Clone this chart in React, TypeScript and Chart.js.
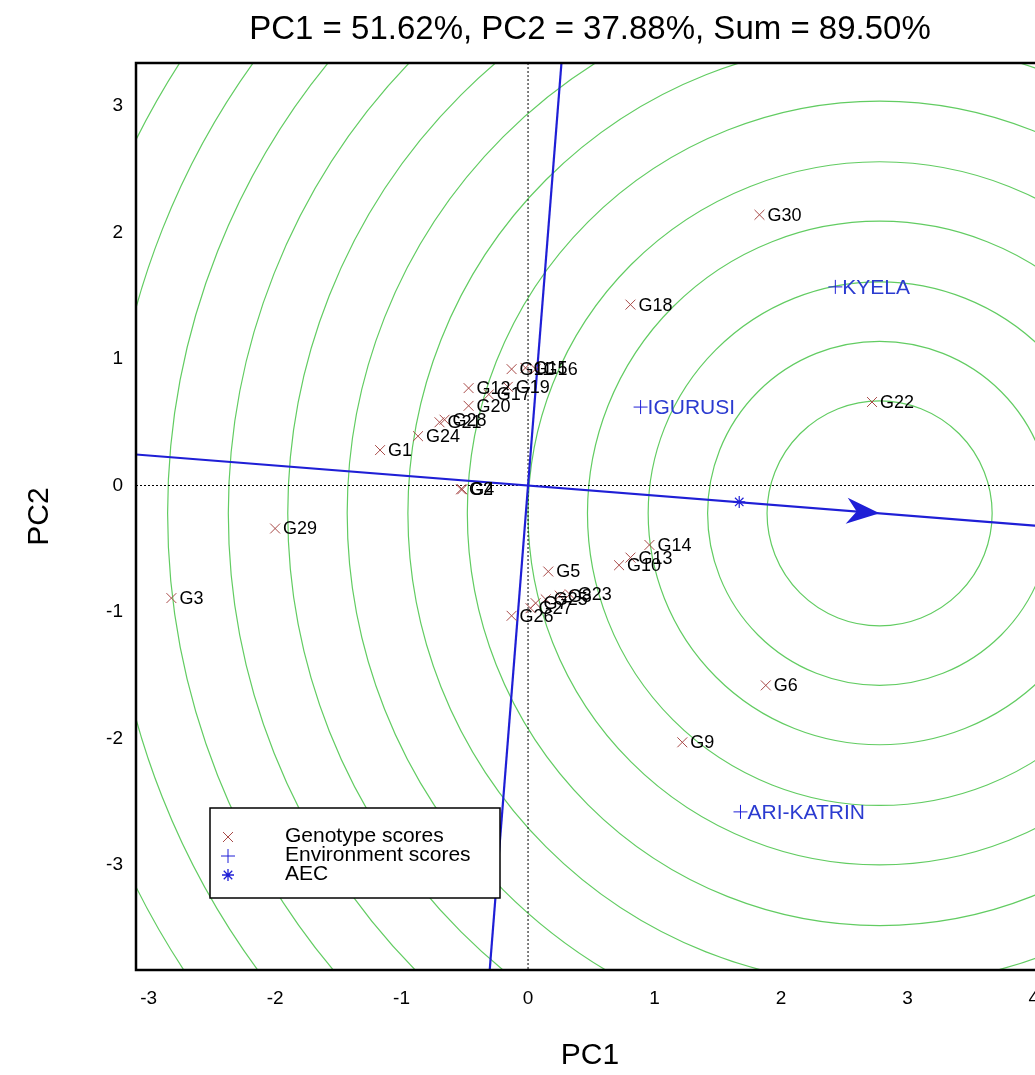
import React, { useEffect, useRef } from "react";
import { Chart, registerables } from "chart.js";

Chart.register(...registerables);

// ---------------- data ----------------
const genotypeNames = [
  "G1", "G2", "G3", "G4", "G5", "G6", "G7", "G8", "G9", "G10",
  "G11", "G12", "G13", "G14", "G15", "G16", "G17", "G18", "G19", "G20",
  "G21", "G22", "G23", "G24", "G25", "G26", "G27", "G28", "G29", "G30",
];
const genotypePC1 = [
  -1.17, -0.53, -2.82, -0.52, 0.16, 1.88, 0.06, 0.25, 1.22, 0.72,
  -0.13, -0.47, 0.81, 0.96, -0.02, 0.06, -0.31, 0.81, -0.16, -0.47,
  -0.7, 2.72, 0.33, -0.87, 0.14, -0.13, 0.02, -0.66, -2.0, 1.83,
];
const genotypePC2 = [
  0.28, -0.03, -0.89, -0.03, -0.68, -1.58, -0.93, -0.87, -2.03, -0.63,
  0.92, 0.77, -0.57, -0.47, 0.93, 0.92, 0.72, 1.43, 0.78, 0.63,
  0.5, 0.66, -0.86, 0.39, -0.9, -1.03, -0.97, 0.52, -0.34, 2.14,
];

const environmentNames = ["KYELA", "IGURUSI", "ARI-KATRIN"];
const environmentPC1 = [2.43, 0.89, 1.68];
const environmentPC2 = [1.57, 0.62, -2.58];

const aecMarkerPC1 = [1.67];
const aecMarkerPC2 = [-0.13];
// arrow tip of the AEC axis = centre of the concentric rings
const aecTipPC1 = 2.78;
const aecTipPC2 = -0.22;
const ringRadii = [0.89, 1.36, 1.83, 2.31, 2.78, 3.26, 3.73, 4.21, 4.68, 5.15, 5.63, 6.1, 6.58, 7.05];

const xTicks = [-3, -2, -1, 0, 1, 2, 3, 4];
const yTicks = [-3, -2, -1, 0, 1, 2, 3];
const xMin = -3.1;
const xMax = 4.08;
const yMin = -3.83;
const yMax = 3.34;

const titleText = "PC1 = 51.62%, PC2 = 37.88%, Sum = 89.50%";
const xTitle = "PC1";
const yTitle = "PC2";
const legendLabels = ["Genotype scores", "Environment scores", "AEC"];

// ---------------- styles ----------------
const FONT = "'Liberation Sans', Arial, Helvetica, sans-serif";
const GENO_COLOR = "#a84a48";
const BLUE = "#1f1fd6";
const ENV_TEXT = "#2b3bd0";
const GREEN = "#62cc62";

const overlayPlugin = {
  id: "gge-overlay",
  beforeDatasetsDraw(chart: any) {
    const { ctx, chartArea, scales } = chart;
    const xs = scales.x;
    const ys = scales.y;
    const px = (v: number) => xs.getPixelForValue(v);
    const py = (v: number) => ys.getPixelForValue(v);
    ctx.save();
    ctx.beginPath();
    ctx.rect(chartArea.left, chartArea.top, chartArea.right - chartArea.left, chartArea.bottom - chartArea.top);
    ctx.clip();

    // concentric rings
    const cx = px(aecTipPC1);
    const cy = py(aecTipPC2);
    const unit = Math.abs(px(1) - px(0));
    ctx.strokeStyle = GREEN;
    ctx.lineWidth = 1.2;
    ringRadii.forEach((r) => {
      ctx.beginPath();
      ctx.arc(cx, cy, r * unit, 0, Math.PI * 2);
      ctx.stroke();
    });

    // dotted zero lines
    ctx.strokeStyle = "#000";
    ctx.lineWidth = 1;
    ctx.setLineDash([2, 2]);
    ctx.beginPath();
    ctx.moveTo(px(0), chartArea.top);
    ctx.lineTo(px(0), chartArea.bottom);
    ctx.moveTo(chartArea.left, py(0));
    ctx.lineTo(chartArea.right, py(0));
    ctx.stroke();
    ctx.setLineDash([]);

    // AEC abscissa through origin and tip
    const slope = aecTipPC2 / aecTipPC1;
    ctx.strokeStyle = BLUE;
    ctx.lineWidth = 2.2;
    ctx.beginPath();
    ctx.moveTo(px(xMin), py(slope * xMin));
    ctx.lineTo(px(xMax), py(slope * xMax));
    ctx.stroke();
    // AEC ordinate (perpendicular)
    const invSlope = -aecTipPC1 / aecTipPC2; // dy/dx of perpendicular
    ctx.beginPath();
    ctx.moveTo(px(yMax / invSlope), py(yMax));
    ctx.lineTo(px(yMin / invSlope), py(yMin));
    ctx.stroke();

    // arrow head
    const ang = Math.atan2(cy - py(0), cx - px(0));
    ctx.save();
    ctx.translate(cx, cy);
    ctx.rotate(ang);
    ctx.fillStyle = BLUE;
    ctx.beginPath();
    ctx.moveTo(0, 0);
    ctx.lineTo(-33, -13);
    ctx.lineTo(-23, 0);
    ctx.lineTo(-33, 13);
    ctx.closePath();
    ctx.fill();
    ctx.restore();

    ctx.restore();
  },
  afterDatasetsDraw(chart: any) {
    const { ctx, chartArea, scales } = chart;
    const xs = scales.x;
    const ys = scales.y;
    const px = (v: number) => xs.getPixelForValue(v);
    const py = (v: number) => ys.getPixelForValue(v);
    ctx.save();

    // genotype labels
    ctx.font = `18px ${FONT}`;
    ctx.fillStyle = "#000";
    ctx.textAlign = "left";
    ctx.textBaseline = "middle";
    genotypeNames.forEach((n, i) => {
      ctx.fillText(n, px(genotypePC1[i]) + 8, py(genotypePC2[i]) + 1);
    });
    // environment labels
    ctx.font = `21px ${FONT}`;
    ctx.fillStyle = ENV_TEXT;
    environmentNames.forEach((n, i) => {
      ctx.fillText(n, px(environmentPC1[i]) + 7, py(environmentPC2[i]) + 1);
    });

    // legend
    const lx = chartArea.left + 74;
    const ly = chartArea.bottom - 162;
    const lw = 290;
    const lh = 90;
    ctx.fillStyle = "#fff";
    ctx.fillRect(lx, ly, lw, lh);
    ctx.strokeStyle = "#000";
    ctx.lineWidth = 1.5;
    ctx.strokeRect(lx, ly, lw, lh);
    const rowY = [ly + 29, ly + 48, ly + 67];
    const mx = lx + 18;
    // x marker
    ctx.lineWidth = 1;
    ctx.strokeStyle = GENO_COLOR;
    ctx.beginPath();
    ctx.moveTo(mx - 5, rowY[0] - 5);
    ctx.lineTo(mx + 5, rowY[0] + 5);
    ctx.moveTo(mx + 5, rowY[0] - 5);
    ctx.lineTo(mx - 5, rowY[0] + 5);
    ctx.stroke();
    // + marker
    ctx.strokeStyle = BLUE;
    ctx.beginPath();
    ctx.moveTo(mx - 7, rowY[1]);
    ctx.lineTo(mx + 7, rowY[1]);
    ctx.moveTo(mx, rowY[1] - 7);
    ctx.lineTo(mx, rowY[1] + 7);
    ctx.stroke();
    // * marker
    ctx.lineWidth = 1.3;
    ctx.beginPath();
    for (let k = 0; k < 4; k++) {
      const a = (k * Math.PI) / 4;
      ctx.moveTo(mx - 6 * Math.cos(a), rowY[2] - 6 * Math.sin(a));
      ctx.lineTo(mx + 6 * Math.cos(a), rowY[2] + 6 * Math.sin(a));
    }
    ctx.stroke();
    ctx.fillStyle = "#000";
    ctx.font = `21px ${FONT}`;
    legendLabels.forEach((t, i) => ctx.fillText(t, lx + 75, rowY[i] - 1));

    // plot frame
    ctx.strokeStyle = "#000";
    ctx.lineWidth = 2.5;
    ctx.strokeRect(chartArea.left, chartArea.top, chartArea.right - chartArea.left, chartArea.bottom - chartArea.top);

    // titles
    const midX = (chartArea.left + chartArea.right) / 2;
    ctx.fillStyle = "#000";
    ctx.textAlign = "center";
    ctx.textBaseline = "middle";
    ctx.font = `33px ${FONT}`;
    ctx.fillText(titleText, midX, chartArea.top - 33);
    ctx.font = `30px ${FONT}`;
    ctx.fillText(xTitle, midX, chartArea.bottom + 86);
    ctx.save();
    ctx.translate(chartArea.left - 96, (chartArea.top + chartArea.bottom) / 2);
    ctx.rotate(-Math.PI / 2);
    ctx.fillText(yTitle, 0, 0);
    ctx.restore();

    ctx.restore();
  },
};

export default function App() {
  const canvasRef = useRef<HTMLCanvasElement | null>(null);

  useEffect(() => {
    if (!canvasRef.current) return;
    const chart = new Chart(canvasRef.current, {
      type: "scatter",
      data: {
        datasets: [
          {
            label: "Genotype scores",
            data: genotypePC1.map((x, i) => ({ x, y: genotypePC2[i] })),
            pointStyle: "crossRot",
            pointRadius: 7,
            borderColor: GENO_COLOR,
            backgroundColor: GENO_COLOR,
            borderWidth: 1,
          },
          {
            label: "Environment scores",
            data: environmentPC1.map((x, i) => ({ x, y: environmentPC2[i] })),
            pointStyle: "cross",
            pointRadius: 7,
            borderColor: BLUE,
            backgroundColor: BLUE,
            borderWidth: 1,
          },
          {
            label: "AEC",
            data: aecMarkerPC1.map((x, i) => ({ x, y: aecMarkerPC2[i] })),
            pointStyle: "star",
            pointRadius: 6,
            borderColor: BLUE,
            backgroundColor: BLUE,
            borderWidth: 1.2,
          },
        ],
      },
      options: {
        animation: false,
        responsive: false,
        maintainAspectRatio: false,
        devicePixelRatio: 1,
        layout: { padding: { top: 63, right: 56, left: 0, bottom: 0 } },
        plugins: {
          legend: { display: false },
          tooltip: { enabled: false },
          title: { display: false },
        },
        scales: {
          x: {
            type: "linear",
            min: xMin,
            max: xMax,
            grid: { display: false, drawTicks: false },
            border: { display: false },
            ticks: {
              color: "#000",
              font: { size: 19, family: FONT },
              padding: 17,
              autoSkip: false,
              maxRotation: 0,
              callback: (v: any) => String(v),
            },
            afterBuildTicks: (s: any) => {
              s.ticks = xTicks.map((v) => ({ value: v }));
            },
            afterFit: (s: any) => {
              s.height = 105;
            },
          },
          y: {
            type: "linear",
            min: yMin,
            max: yMax,
            grid: { display: false, drawTicks: false },
            border: { display: false },
            ticks: {
              color: "#000",
              font: { size: 19, family: FONT },
              padding: 13,
              autoSkip: false,
              callback: (v: any) => String(v),
            },
            afterBuildTicks: (s: any) => {
              s.ticks = yTicks.map((v) => ({ value: v }));
            },
            afterFit: (s: any) => {
              s.width = 136;
            },
          },
        },
      },
      plugins: [overlayPlugin],
    } as any);
    return () => chart.destroy();
  }, []);

  return (
    <div
      style={{
        position: "fixed",
        left: 0,
        top: 0,
        width: 1035,
        height: 1075,
        overflow: "hidden",
        background: "#fff",
      }}
    >
      <canvas ref={canvasRef} width={1100} height={1075} style={{ width: 1100, height: 1075, display: "block" }} />
    </div>
  );
}
